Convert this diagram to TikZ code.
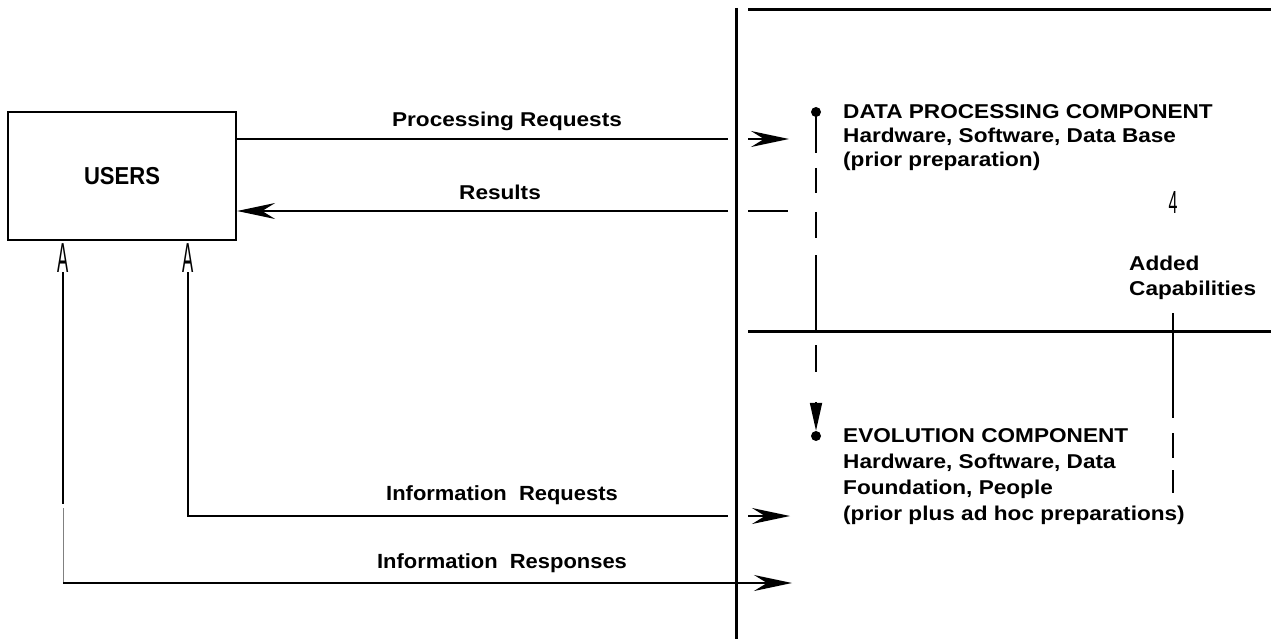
\documentclass[tikz,border=0pt]{standalone}
\usepackage{fontspec}
\setmainfont[FakeStretch=1.13]{Liberation Sans}
\newfontfamily\flowfont[FakeStretch=1.07]{Liberation Sans}
\newfontfamily\usersfont[FakeStretch=0.9]{Liberation Sans}
\newfontfamily\tipfont[FakeStretch=0.4]{Liberation Sans}
\newfontfamily\fourfont[FakeStretch=0.5]{Liberation Sans}
\usetikzlibrary{arrows.meta}

\begin{document}
\begin{tikzpicture}[x=1pt,y=-1pt,
	flow/.style={line width=1.8pt},
	wall/.style={line width=3pt},
	tip/.style={-{Stealth[length=38pt,width=16pt,inset=13pt]}},
	txt/.style={font=\bfseries\fontsize{20}{24}\selectfont, inner sep=0pt},
	lbl/.style={font=\flowfont\bfseries\fontsize{20.5}{24}\selectfont, inner sep=0pt, anchor=base}]
	\useasboundingbox (0,0) rectangle (1271,639);
	% the two sides
	\draw[wall] (736,8) -- (736,639);
	\draw[wall] (748,10) -- (1271,10);
	\draw[wall] (748,331) -- (1271,331);
	\node[draw, line width=2.2pt, minimum width=228pt, minimum height=128pt, inner sep=0pt,
		font=\usersfont\bfseries\fontsize{24.5}{28}\selectfont] (users) at (122,176) {USERS};
	\node[font=\tipfont\fontsize{42}{42}\selectfont, anchor=north, inner sep=0pt] (a1) at (63,243) {A};
	\node[font=\tipfont\fontsize{42}{42}\selectfont, anchor=north, inner sep=0pt] (a2) at (188,243) {A};
	% components
	\node[txt, anchor=north west, align=left] (dp) at (843,104) {DATA PROCESSING COMPONENT\\Hardware, Software, Data Base\\(prior preparation)};
	\node[txt, anchor=north west, align=left, font=\bfseries\fontsize{20}{26}\selectfont] (ev) at (843,428) {EVOLUTION COMPONENT\\Hardware, Software, Data\\Foundation, People\\(prior plus ad hoc preparations)};
	\node[txt, anchor=north west, align=left, font=\bfseries\fontsize{20}{25}\selectfont] (added) at (1129,256) {Added\\Capabilities};
	\node[font=\fourfont\fontsize{32}{32}\selectfont, inner sep=0pt] (four) at (1173,202) {4};
	\node[circle, fill, inner sep=0pt, minimum size=10pt] (dpdot) at (816,112) {};
	\node[circle, fill, inner sep=0pt, minimum size=10pt] (evdot) at (816,436) {};
	% flows across the wall
	\coordinate (prin) at (728,139);
	\coordinate (prout) at (748,139);
	\coordinate (rsin) at (728,211);
	\coordinate (rsout) at (748,211);
	\coordinate (irin) at (728,516);
	\coordinate (irout) at (748,516);
	\coordinate (irend) at (63,583);
	\draw[flow] (users.east |- prin) -- (prin);
	\draw[flow,tip] (prout) -- (789,139);
	\node[lbl, font=\bfseries\fontsize{20}{24}\selectfont] (prl) at (507,127) {Processing Requests};
	\draw[flow,tip] (rsin) -- (users.east |- rsin);
	\draw[flow] (rsout) -- (788,211);
	\node[lbl, font=\bfseries\fontsize{20}{24}\selectfont] (rsl) at (500,200) {Results};
	\draw[flow] (a2.south) -- (a2.south |- irin) -- (irin);
	\draw[flow,tip] (irout) -- (790,516);
	\node[lbl] (irl) at (502,500) {Information\ \ Requests};
	\draw[flow] (a1.south) -- (63,504);
	\draw[gray, line width=0.8pt] (63,508) -- (irend);
	\draw[flow,tip] (irend) -- (792,583);
	\node[lbl] (iol) at (502,568) {Information\ \ Responses};
	% component links
	\foreach \a/\b in {112/153,168/193,212/238,255/331,345/372}
		\draw[flow] (816,\a) -- (816,\b);
	\draw[flow, -{Triangle[length=28pt,width=12pt]}] (816,402) -- (evdot.north);
	\foreach \a/\b in {313/418,433/458,470/493}
		\draw[flow] (1173,\a) -- (1173,\b);
\end{tikzpicture}
\end{document}
